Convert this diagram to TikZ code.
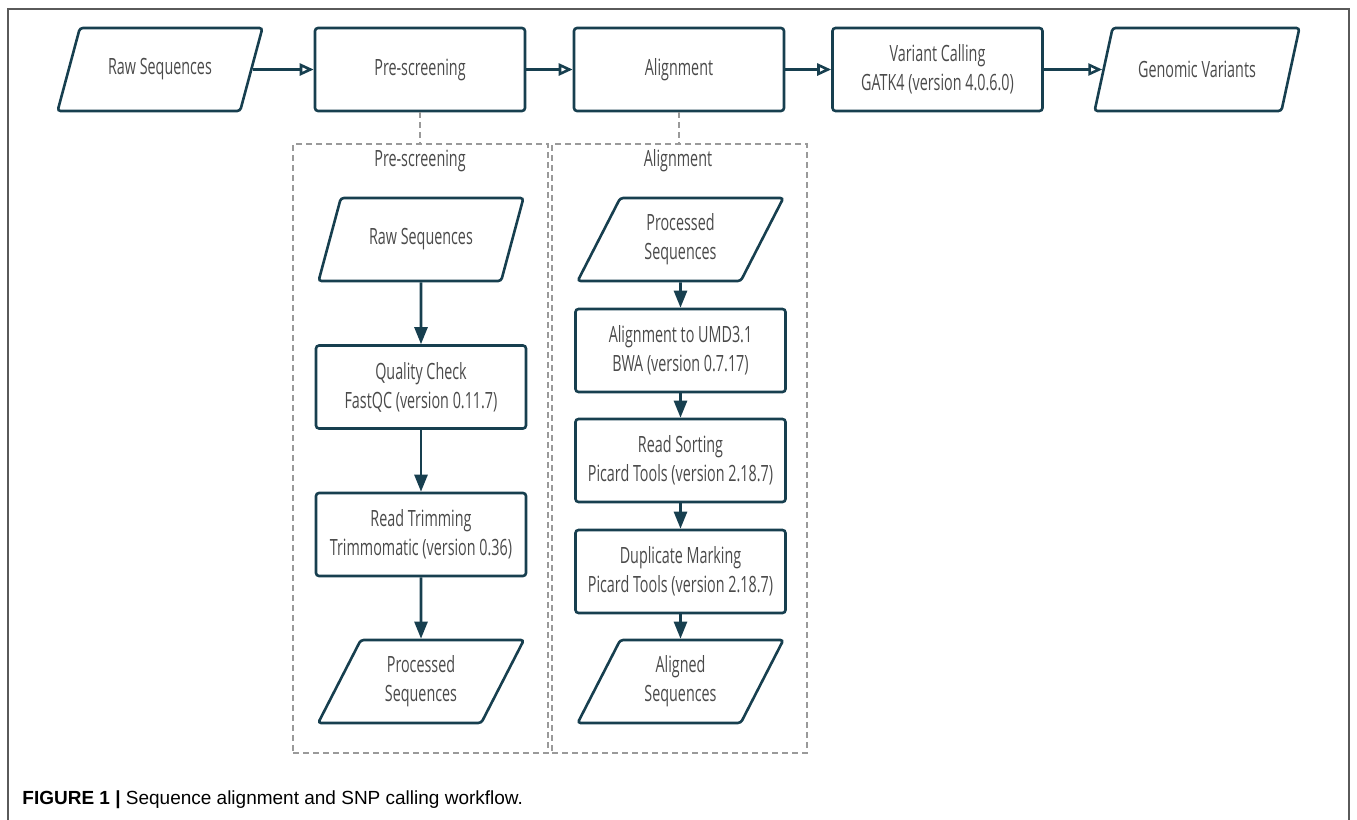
\documentclass[tikz,border=0pt]{standalone}
\usepackage{fontspec}
\setmainfont{Liberation Sans}
\newfontfamily\flowfont{Open Sans}[FakeStretch=0.64]
\usepackage{xcolor}
\usepackage{tikz}
\usetikzlibrary{shapes.geometric}
\usetikzlibrary{arrows.meta}
\usetikzlibrary{positioning}

\definecolor{edgeteal}{HTML}{173F4F}
\definecolor{boxtext}{HTML}{4A4A4A}
\definecolor{framegray}{HTML}{5A5A5A}
\definecolor{grpgray}{HTML}{9A9A9A}

\tikzset{
  stepbox/.style={draw=edgeteal, line width=1.3pt, rounded corners=1.5pt,
    minimum width=105pt, minimum height=41.5pt, align=center,
    text=boxtext, font=\flowfont\fontsize{11.2}{14.5}\selectfont},
  iobox/.style={trapezium, trapezium left angle=65, trapezium right angle=115,
    trapezium stretches=true, draw=edgeteal, line width=1.3pt, rounded corners=1.5pt,
    minimum width=103pt, minimum height=41.5pt, align=center,
    text=boxtext, font=\flowfont\fontsize{11.2}{14.5}\selectfont},
  grpbox/.style={draw=grpgray, dashed, dash pattern=on 3pt off 2pt, line width=0.6pt,
    minimum width=127.5pt, minimum height=304.5pt},
  grplabel/.style={text=boxtext, font=\flowfont\fontsize{11.2}{14.5}\selectfont},
  flow/.style={draw=edgeteal, line width=1.3pt, -{Triangle[open,length=7pt,width=6pt]}},
  down/.style={draw=edgeteal, line width=1.3pt, -{Triangle[length=8.5pt,width=6.5pt]}},
  link/.style={draw=grpgray, dashed, dash pattern=on 3pt off 2pt, line width=0.6pt}
}

\begin{document}
\begin{tikzpicture}[x=0.5pt, y=-0.5pt]
  \useasboundingbox (0,0) rectangle (1357,820);

  % outer frame
  \draw[framegray, line width=0.7pt] (8,820) -- (8,9) -- (1349,9) -- (1349,820);

  % ===== main row =====
  \node[iobox]   (raw) at (160,69.5)   {Raw Sequences};
  \node[stepbox] (pre) at (420,69.5)   {Pre-screening};
  \node[stepbox] (aln) at (679,69.5)   {Alignment};
  \node[stepbox] (var) at (937.5,69.5) {Variant Calling\\GATK4 (version 4.0.6.0)};
  \node[iobox]   (gen) at (1197,69.5)  {Genomic Variants};

  \draw[flow] (raw) -- (pre);
  \draw[flow] (pre) -- (aln);
  \draw[flow] (aln) -- (var);
  \draw[flow] (var) -- (gen);

  % ===== sub-process groups =====
  \node[grpbox] (pregrp) at (420.5,448.5) {};
  \node[grpbox] (alngrp) at (679.5,448.5) {};
  \node[grplabel] at (420,161) {Pre-screening};
  \node[grplabel] at (678,161) {Alignment};

  \draw[link] (pre.south) -- (pre.south |- pregrp.north);
  \draw[link] (aln.south) -- (aln.south |- alngrp.north);

  % pre-screening steps
  \node[iobox]   (rawin) at (421,239.5) {Raw Sequences};
  \node[stepbox] (qc)    at (421,387)   {Quality Check\\FastQC (version 0.11.7)};
  \node[stepbox] (trim)  at (421,534.5) {Read Trimming\\Trimmomatic (version 0.36)};
  \node[iobox]   (proc)  at (421,681.5) {Processed\\Sequences};

  \draw[down] (rawin) -- (qc);
  \draw[down] (qc) -- (trim);
  \draw[down] (trim) -- (proc);

  % alignment steps
  \node[iobox]   (procin) at (680.5,239.5) {Processed\\Sequences};
  \node[stepbox] (bwa)    at (680.5,350.5) {Alignment to UMD3.1\\BWA (version 0.7.17)};
  \node[stepbox] (sort)   at (680.5,460.5) {Read Sorting\\Picard Tools (version 2.18.7)};
  \node[stepbox] (dup)    at (680.5,571.5) {Duplicate Marking\\Picard Tools (version 2.18.7)};
  \node[iobox]   (alnd)   at (680.5,681.5) {Aligned\\Sequences};

  \draw[down] (procin) -- (bwa);
  \draw[down] (bwa) -- (sort);
  \draw[down] (sort) -- (dup);
  \draw[down] (dup) -- (alnd);

  % caption
  \node[anchor=west, inner sep=0pt, font=\fontsize{9.5}{11}\selectfont] (cap) at (22,800)
    {\textbf{FIGURE 1 |} Sequence alignment and SNP calling workflow.};
\end{tikzpicture}
\end{document}
